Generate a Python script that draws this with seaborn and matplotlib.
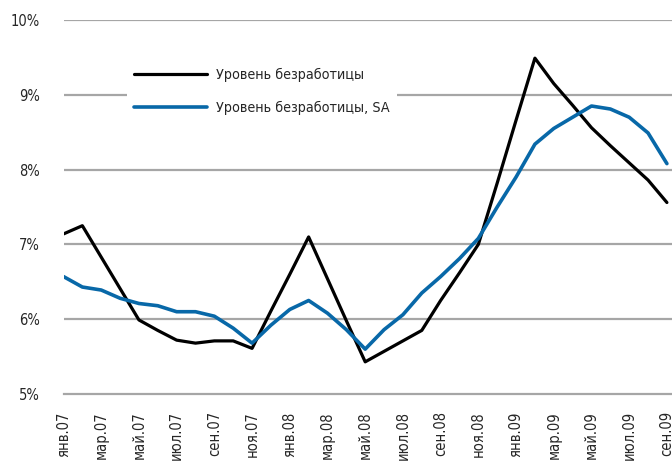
import matplotlib
matplotlib.use("Agg")
import matplotlib.pyplot as plt
import seaborn as sns
import pandas as pd

# monthly data, янв.07 - сен.09
months = ["янв.07", "фев.07", "мар.07", "апр.07", "май.07", "июн.07", "июл.07", "авг.07",
          "сен.07", "окт.07", "ноя.07", "дек.07", "янв.08", "фев.08", "мар.08", "апр.08",
          "май.08", "июн.08", "июл.08", "авг.08", "сен.08", "окт.08", "ноя.08", "дек.08",
          "янв.09", "фев.09", "мар.09", "апр.09", "май.09", "июн.09", "июл.09", "авг.09",
          "сен.09"]
unemp = [7.14, 7.25, 6.83, 6.41, 5.99, 5.85, 5.72, 5.68, 5.71, 5.71, 5.61, 6.11, 6.6,
         7.1, 6.54, 5.98, 5.43, 5.57, 5.71, 5.85, 6.25, 6.62, 7.0, 7.82, 8.66, 9.49,
         9.15, 8.86, 8.56, 8.32, 8.09, 7.86, 7.56]
unemp_sa = [6.57, 6.43, 6.39, 6.28, 6.21, 6.18, 6.10, 6.10, 6.04, 5.88, 5.68, 5.92, 6.13,
            6.25, 6.08, 5.86, 5.60, 5.86, 6.06, 6.35, 6.57, 6.81, 7.08, 7.50, 7.90, 8.34,
            8.55, 8.70, 8.85, 8.81, 8.70, 8.49, 8.08]
yticks = [5, 6, 7, 8, 9, 10]

df = pd.DataFrame({"idx": range(len(months)), "unemp": unemp, "sa": unemp_sa})

sns.set_style("white")
plt.rcParams["font.family"] = ["DejaVu Sans", "Liberation Sans"]
plt.rcParams["font.stretch"] = "condensed"

fig = plt.figure(figsize=(6.72, 4.65), dpi=100)
ax = fig.add_axes([63.5 / 672, 71 / 465, 1 - 63.5 / 672, 374 / 465])

grid_col = "#a6a6a6"
for y in yticks[1:]:
    ax.axhline(y, color=grid_col, lw=1.6, zorder=0)

sns.lineplot(data=df, x="idx", y="unemp", ax=ax, color="black", lw=2.3,
             label="Уровень безработицы", zorder=3)
sns.lineplot(data=df, x="idx", y="sa", ax=ax, color="#0868a8", lw=2.6,
             label="Уровень безработицы, SA", zorder=3)

ax.set_xlim(0, 32.27)
ax.set_ylim(5, 10)
ax.set_yticks(yticks)
ax.set_yticklabels([f"{v}%" for v in yticks], fontsize=10.5)
ax.set_xticks(range(0, len(months), 2))
ax.set_xticklabels(months[::2], rotation=90, fontsize=10.5, va="top")
ax.set_xlabel("")
ax.set_ylabel("")

for s in ["top", "right", "left"]:
    ax.spines[s].set_visible(False)
ax.spines["bottom"].set_color(grid_col)
ax.spines["bottom"].set_linewidth(1.6)
ax.tick_params(axis="x", length=5, width=1.2, color=grid_col, direction="out", pad=7.5)
ax.tick_params(axis="y", length=0, pad=17)

leg = ax.legend(loc="upper left", bbox_to_anchor=((120 - 63.5) / 608.5, (394 - 54) / 374),
                frameon=True, fancybox=False, edgecolor="none", facecolor="white",
                framealpha=1, fontsize=10.3, handlelength=5.1, labelspacing=1.3,
                borderpad=0.5, handletextpad=0.6)
leg.set_zorder(4)

fig.savefig("out.png", dpi=100)
